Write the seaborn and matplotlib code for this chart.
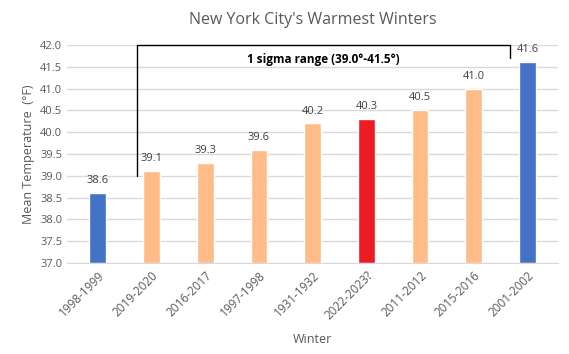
import pandas as pd
import numpy as np
import seaborn as sns
import matplotlib.pyplot as plt
import matplotlib as mpl

sns.set_style('white')
mpl.rcParams['font.family'] = ['Open Sans', 'DejaVu Sans']

winters = ['1998-1999', '2019-2020', '2016-2017', '1997-1998', '1931-1932',
           '2022-2023?', '2011-2012', '2015-2016', '2001-2002']
temps = [38.6, 39.1, 39.3, 39.6, 40.2, 40.3, 40.5, 41.0, 41.6]
colors = ['#4472C4', '#FFBB88', '#FFBB88', '#FFBB88', '#FFBB88',
          '#ED1C24', '#FFBB88', '#FFBB88', '#4472C4']

df = pd.DataFrame({'winter': winters, 'temp': temps})

fig = plt.figure(figsize=(5.69, 3.54), dpi=100)
ax = fig.add_axes([0.118, 0.257, 0.863, 0.616])

sns.barplot(data=df, x='winter', y='temp', hue='winter', palette=colors,
            saturation=1, width=0.31, legend=False, ax=ax)
ax.set_ylim(37, 42)
for i, c in enumerate(ax.containers):
    for bar in c:
        h = bar.get_height()
        bar.set_y(37)
        bar.set_height(h - 37)
    ax.bar_label(c, labels=[f'{temps[i]:.1f}'], padding=5, fontsize=8, color='#404040')

ax.set_yticks(np.arange(37, 42.01, 0.5))
ax.set_yticklabels([f'{v:.1f}' for v in np.arange(37, 42.01, 0.5)])
ax.yaxis.grid(True, color='#D9D9D9', linewidth=1)
ax.set_axisbelow(True)
for s in ['top', 'right', 'left']:
    ax.spines[s].set_visible(False)
ax.spines['bottom'].set_color('#D9D9D9')
ax.tick_params(axis='both', length=0, labelsize=8, colors='#595959')
ax.tick_params(axis='x', labelsize=8.5, pad=4)
plt.setp(ax.get_xticklabels(), rotation=45, ha='right', rotation_mode='anchor')

ax.set_xlabel('Winter', fontsize=9, color='#595959', labelpad=8)
ax.set_ylabel('Mean Temperature  (°F)', fontsize=9, color='#595959')
ax.set_title("New York City's Warmest Winters", fontsize=11.5, color='#595959', pad=15)

# 1 sigma bracket
ax.plot([0.73, 0.73, 7.67, 7.67], [39.0, 42.0, 42.0, 41.7], color='black',
        linewidth=1, clip_on=False)
ax.text(4.2, 41.66, '1 sigma range (39.0°-41.5°)', ha='center', va='center',
        fontsize=8.5, fontweight='bold', color='black')

plt.savefig('out.png', dpi=100)
plt.close()
